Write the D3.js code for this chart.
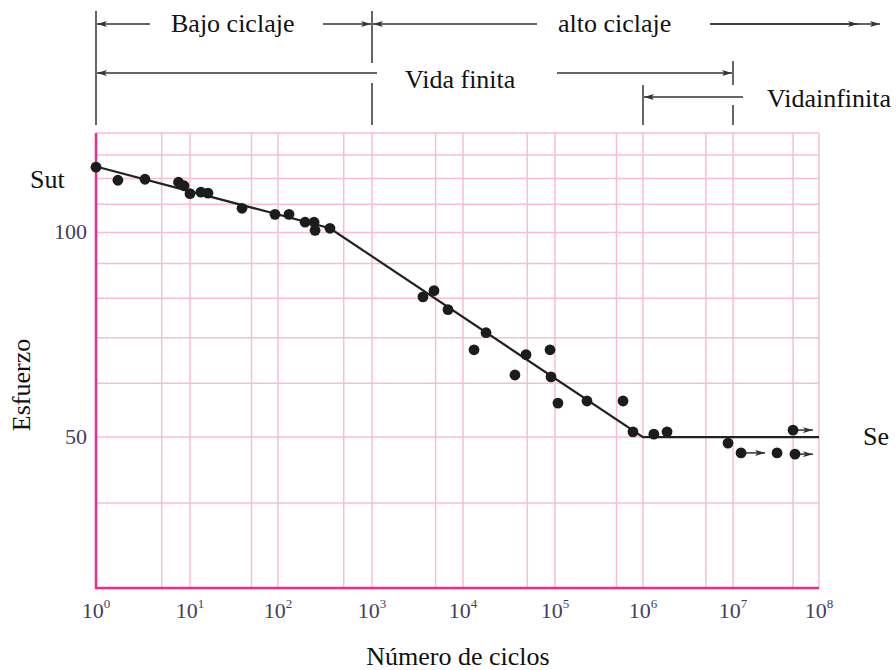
<!DOCTYPE html>
<html><head><meta charset="utf-8">
<script src="https://cdn.jsdelivr.net/npm/d3@7"></script>
<style>
html,body{margin:0;padding:0;background:#fff;}
svg{display:block;}
</style></head>
<body><svg id="chart" width="896" height="670" font-family="'Liberation Serif', 'Times New Roman', Times, 'DejaVu Serif', serif"></svg>
<script>
// ---------- data ----------
const xDecades = [1,1e1,1e2,1e3,1e4,1e5,1e6,1e7,1e8];
const xTickExps = [0,1,2,3,4,5,6,7,8];
const xMinorGrid = [5,5e1,5e2,5e3,5e4,5e5,5e6,5e7];
const yGrid = [40,50,60,70,80,90,100,110,120,130,140];
const yTickLabels = [100,50];
const cycles = [1,1.71,3.32,7.55,8.63,10,13.3,16,39,92.5,131,194,242,248,357,
  3630,4800,6840,17800,13180,48400,36700,88300,90500,108000,231000,593000,
  769000,1.32e6,1.85e6,8.8e6,1.24e7,3.25e7,5.26e7,4.99e7];
const stress = [124.7,119.3,119.7,118.5,117.1,114,114.6,114.2,108.5,106.3,106.3,103.5,103.5,100.7,101.4,
  80.4,82.1,77,71.2,67.2,66.1,61.7,67.2,61.3,56.1,56.5,56.5,
  50.9,50.5,50.9,49.0,47.4,47.4,47.2,51.2];
// run-out specimens (did not fail): start cycles, stress, arrow tip cycles
const runoutStart = [1.24e7,5.26e7,4.99e7];
const runoutStress = [47.4,47.2,51.2];
const runoutEnd = [2.36e7,8.5e7,8.5e7];
// S-N fit line vertices
const fitCycles = [1,357,1e6,1e8];
const fitStress = [125,101.4,50,50];

// ---------- scales ----------
const svg = d3.select("#chart");
const x = d3.scaleLog().domain(xDecades).range([96,190,278,372,463,555,643,733,819]);
const y = d3.scaleLog().domain([30,140]).range([588,133]);

const pinkLight = "#f8bcd6", pinkAxis = "#ee2b8e", ink = "#222", tickCol = "#423d66";
const serif = "'Liberation Serif', 'Times New Roman', Times, 'DejaVu Serif', serif";

// arrow markers
const defs = svg.append("defs");
defs.append("marker").attr("id","ah").attr("viewBox","0 0 10 6").attr("refX",10).attr("refY",3)
  .attr("markerWidth",10).attr("markerHeight",6).attr("markerUnits","userSpaceOnUse").attr("orient","auto-start-reverse")
  .append("path").attr("d","M0,0 L10,3 L0,6 L2.5,3 Z").attr("fill","#333");

// ---------- grid ----------
const g = svg.append("g");
g.selectAll(".vg").data(xDecades.concat(xMinorGrid)).join("line")
  .attr("x1",d=>x(d)).attr("x2",d=>x(d)).attr("y1",y(140)).attr("y2",y(30))
  .attr("stroke",pinkLight).attr("stroke-width",1.5);
g.selectAll(".hg").data(yGrid).join("line")
  .attr("x1",x(1)).attr("x2",x(1e8)).attr("y1",d=>y(d)).attr("y2",d=>y(d))
  .attr("stroke",pinkLight).attr("stroke-width",1.5);
// axes
g.append("line").attr("x1",x(1)).attr("x2",x(1)).attr("y1",y(140)).attr("y2",y(30)+1)
  .attr("stroke",pinkAxis).attr("stroke-width",2.5);
g.append("line").attr("x1",x(1)-1).attr("x2",x(1e8)).attr("y1",y(30)).attr("y2",y(30))
  .attr("stroke",pinkAxis).attr("stroke-width",2.5);

// x tick labels
const xl = svg.append("g").attr("fill",tickCol).attr("text-anchor","middle").attr("font-family",serif);
xTickExps.forEach((e,i)=>{
  const t = xl.append("text").attr("x",x(xDecades[i])).attr("y",618).attr("font-size",22);
  t.append("tspan").text("10");
  t.append("tspan").attr("font-size",13).attr("dy",-10).text(e);
});
// y tick labels
svg.selectAll(".yl").data(yTickLabels).join("text")
  .attr("x",87).attr("y",d=>y(d)+7).attr("text-anchor","end").attr("font-size",22)
  .attr("font-family",serif).attr("fill",tickCol).text(d=>d);

// ---------- fit line ----------
const fit = fitCycles.map((c,i)=>[c,fitStress[i]]);
svg.append("path").datum(fit)
  .attr("d",d3.line().x(d=>x(d[0])).y(d=>y(d[1])))
  .attr("fill","none").attr("stroke",ink).attr("stroke-width",2.2);

// ---------- run-out arrows ----------
runoutStart.forEach((c,i)=>{
  svg.append("line").attr("x1",x(c)).attr("x2",x(runoutEnd[i]))
    .attr("y1",y(runoutStress[i])).attr("y2",y(runoutStress[i]))
    .attr("stroke","#333").attr("stroke-width",1.5).attr("marker-end","url(#ah)");
});

// ---------- points ----------
svg.selectAll(".pt").data(cycles.map((c,i)=>[c,stress[i]])).join("circle")
  .attr("cx",d=>x(d[0])).attr("cy",d=>y(d[1])).attr("r",5.4).attr("fill","#1c1c1c");

// ---------- labels ----------
const lab = (tx,ty,s,anchor)=>svg.append("text").attr("x",tx).attr("y",ty).attr("font-size",26)
  .attr("font-family",serif).attr("fill","#111").attr("text-anchor",anchor||"start").text(s);
lab(30,188,"Sut");
lab(863,445,"Se");
lab(458,665,"Número de ciclos","middle");
svg.append("text").attr("transform","translate(30,385) rotate(-90)").attr("font-size",26)
  .attr("font-family",serif).attr("fill","#111").attr("text-anchor","middle").text("Esfuerzo");

// ---------- top annotations ----------
const ann = svg.append("g").attr("stroke","#333").attr("stroke-width",1.5).attr("fill","none");
const vline = (c,y1,y2)=>ann.append("line").attr("x1",x(c)).attr("x2",x(c)).attr("y1",y1).attr("y2",y2);
vline(1,11,125);
vline(1e3,11,63); vline(1e3,83,125);
vline(1e6,85,125);
vline(1e7,61,85); vline(1e7,105,125);
const seg = (x1,x2,yy,ms,me)=>{
  const l = ann.append("line").attr("x1",x1).attr("x2",x2).attr("y1",yy).attr("y2",yy);
  if(ms) l.attr("marker-start","url(#ah)");
  if(me) l.attr("marker-end","url(#ah)");
  return l;
};
seg(x(1)+1,150,24,true,false);
seg(323,x(1e3)-1,24,false,true);
seg(x(1e3)+1,537,24,true,false);
seg(710,880,24,false,true);
seg(710,858,24,false,true);
seg(x(1)+1,377,73,true,false);
seg(557,x(1e7)-1,73,false,true);
seg(x(1e6)+1,743,97,true,false);
lab(171,32,"Bajo ciclaje");
lab(558,32,"alto ciclaje");
lab(405,88,"Vida finita");
lab(767,107,"Vidainfinita");
</script></body></html>
